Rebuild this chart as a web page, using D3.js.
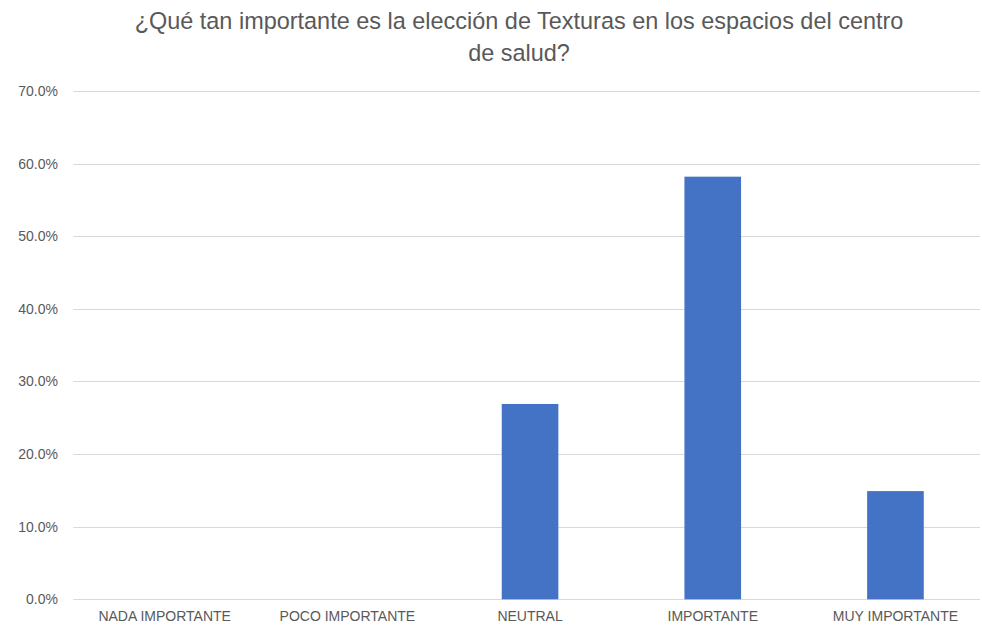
<!DOCTYPE html>
<html><head><meta charset="utf-8">
<script src="https://cdn.jsdelivr.net/npm/d3@7"></script>
<style>body{margin:0;background:#fff;} svg{display:block;}</style>
</head><body>
<script>
const titleLines = ["¿Qué tan importante es la elección de Texturas en los espacios del centro", "de salud?"];
const categories = ["NADA IMPORTANTE", "POCO IMPORTANTE", "NEUTRAL", "IMPORTANTE", "MUY IMPORTANTE"];
const values = [0, 0, 0.269, 0.582, 0.149];
const yTicks = [0, 0.1, 0.2, 0.3, 0.4, 0.5, 0.6, 0.7];

const W = 982, H = 634;
const svg = d3.select("body").append("svg").attr("width", W).attr("height", H);
const font = "'Liberation Sans', Arial, sans-serif";
const grey = "#595959";

const x = d3.scaleBand().domain(categories).range([73.3, 986.8]).paddingInner(0.69).paddingOuter(0.345);
const y = d3.scaleLinear().domain([0, 0.7]).range([599.3, 91]);

// gridlines
svg.append("g").selectAll("line").data(yTicks).join("line")
  .attr("x1", 73.3).attr("x2", 980)
  .attr("y1", d => Math.round(y(d)) + 0.5).attr("y2", d => Math.round(y(d)) + 0.5)
  .attr("stroke", "#d9d9d9").attr("stroke-width", 1);

// y axis labels
const yAxis = d3.axisLeft(y).tickValues(yTicks).tickFormat(d3.format(".1%")).tickSize(0).tickPadding(0);
const ya = svg.append("g").attr("transform", "translate(58,0)").call(yAxis);
ya.select(".domain").remove();
ya.selectAll("text").attr("fill", grey).style("font-family", font).style("font-size", "14px");

// bars
svg.append("g").selectAll("rect").data(values).join("rect")
  .attr("x", (d, i) => x(categories[i]))
  .attr("width", x.bandwidth())
  .attr("y", d => y(d))
  .attr("height", d => y(0) - y(d))
  .attr("fill", "#4472c4");

// x axis labels
const xAxis = d3.axisBottom(x).tickSize(0).tickPadding(0);
const xa = svg.append("g").attr("transform", "translate(0,611)").call(xAxis);
xa.select(".domain").remove();
xa.selectAll("text").attr("fill", grey).style("font-family", font).style("font-size", "14px").attr("dy", "0.71em");

// title
const t = svg.append("g");
const tl = t.selectAll("text").data(titleLines).join("text")
  .attr("x", 519).attr("y", (d, i) => 29 + i * 32)
  .attr("text-anchor", "middle").attr("fill", grey)
  .style("font-family", font).style("font-size", "19px")
  .text(d => d);
const w = tl.node().getComputedTextLength();
const fs = 19 * 769 / w;
tl.style("font-size", fs + "px");
</script>
</body></html>
